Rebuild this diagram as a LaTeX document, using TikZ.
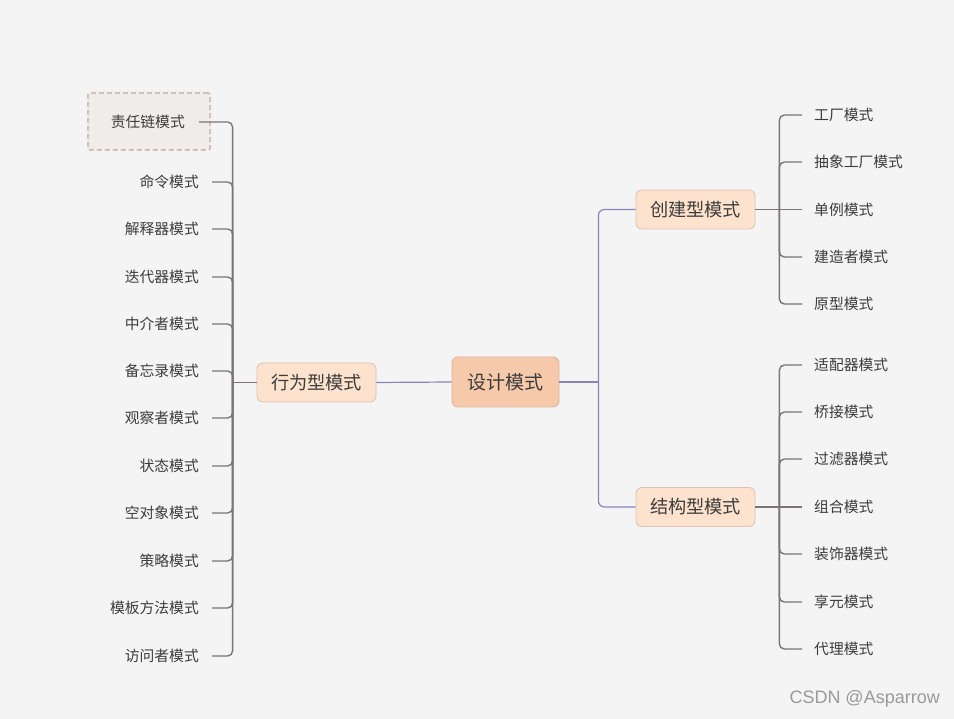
\documentclass[tikz,border=0pt]{standalone}
\usepackage{fontspec}
\setmainfont{Liberation Sans}
\newfontfamily\cjk{Noto Sans CJK SC}
\definecolor{bg}{HTML}{F4F4F4}
\definecolor{plin}{HTML}{8A83BD}
\definecolor{glin}{HTML}{7B7675}
\definecolor{rootfill}{HTML}{F6C9AA}
\definecolor{rootdraw}{HTML}{DDB49A}
\definecolor{subfill}{HTML}{FDE3CD}
\definecolor{subdraw}{HTML}{DEC2AE}
\definecolor{txt}{HTML}{3C3C3C}
\definecolor{dashfill}{HTML}{EFECEA}
\definecolor{dashdraw}{HTML}{D2C3B8}
\definecolor{wm}{HTML}{9A9A9A}
\begin{document}
\begin{tikzpicture}[x=1pt,y=-1pt,
  rootbox/.style={draw=rootdraw,fill=rootfill,rounded corners=6pt,line width=0.8pt,
    minimum width=107pt,minimum height=50pt,inner sep=0pt,text=txt,
    font=\cjk\fontsize{19}{22}\selectfont},
  subbox/.style={draw=subdraw,fill=subfill,rounded corners=6pt,line width=0.8pt,
    minimum width=119pt,minimum height=39pt,inner sep=0pt,text=txt,
    font=\cjk\fontsize{18.2}{21}\selectfont},
  rleaf/.style={anchor=west,inner xsep=12pt,inner ysep=0pt,text=txt,
    font=\cjk\fontsize{14.8}{17}\selectfont},
  lleaf/.style={anchor=east,inner xsep=13pt,inner ysep=0pt,text=txt,
    font=\cjk\fontsize{14.8}{17}\selectfont},
  pline/.style={draw=plin,line width=1.2pt,rounded corners=6pt},
  gline/.style={draw=glin,line width=1.4pt,rounded corners=5pt},
  dashbox/.style={draw=dashdraw,fill=dashfill,dashed,dash pattern=on 5pt off 3pt,
    line width=2pt,rounded corners=2pt,minimum width=122pt,minimum height=57pt,inner sep=0pt}
]
\useasboundingbox[fill=bg] (0,0) rectangle (954,719);

% main nodes
\node[rootbox] (root) at (505.5,382) {设计模式};
\node[subbox] (beh) at (316.5,382.5) {行为型模式};
\node[subbox] (cre) at (695.5,209.5) {创建型模式};
\node[subbox] (str) at (695.5,507) {结构型模式};

% highlight box
\node[dashbox] (hl) at (149,121.5) {};

% main connectors
\coordinate (rj) at ([xshift=39pt]root.east);
\draw[pline] (root.west) -- (beh.east);
\draw[pline] (root.east) -- (rj);
\draw[pline] (rj) |- (cre.west);
\draw[pline] (rj) |- (str.west);

% creational leaves
\coordinate (cj) at ([xshift=24pt]cre.east);
\foreach \n/\y/\t in {c1/115/工厂模式,c2/162/抽象工厂模式,c3/209.5/单例模式,c4/257/建造者模式,c5/304/原型模式}{
  \node[rleaf] (\n) at (802,\y) {\t};
}
\draw[gline] (cre.east) -- (c3.west);
\foreach \n in {c1,c2,c4,c5}{\draw[gline] (cj) |- (\n.west);}
% structural leaves
\coordinate (sj) at ([xshift=24pt]str.east);
\foreach \n/\y/\t in {s1/365/适配器模式,s2/412/桥接模式,s3/459/过滤器模式,s4/507/组合模式,s5/554/装饰器模式,s6/602/享元模式,s7/649/代理模式}{
  \node[rleaf] (\n) at (802,\y) {\t};
}
\draw[gline] (str.east) -- (s4.west);
\foreach \n in {s1,s2,s3,s5,s6,s7}{\draw[gline] (sj) |- (\n.west);}
% behavioural leaves
\coordinate (bj) at ([xshift=-24pt]beh.west);
\draw[gline] (beh.west) -- (bj);
\node[lleaf,inner xsep=14pt] (b1) at (199,122) {责任链模式};
\draw[gline] (bj) |- (b1.east);
\foreach \n/\y/\t in {b2/182/命令模式,b3/229/解释器模式,b4/277/迭代器模式,b5/324/中介者模式,b6/371/备忘录模式,b7/418/观察者模式,b8/466/状态模式,b9/513/空对象模式,b10/561/策略模式,b11/608/模板方法模式,b12/656/访问者模式}{
  \node[lleaf] (\n) at (212,\y) {\t};
  \draw[gline] (bj) |- (\n.east);
}

% watermark
\node[anchor=east,inner sep=0pt,text=wm,font=\fontsize{18}{21}\selectfont] (wmk) at (940,699) {CSDN @Asparrow};
\end{tikzpicture}
\end{document}
